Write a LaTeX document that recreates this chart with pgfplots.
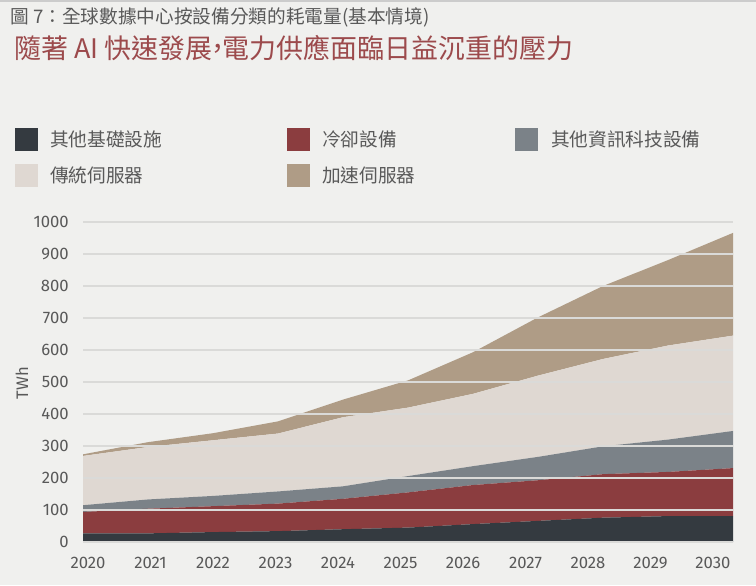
\documentclass[border=0pt]{standalone}
\usepackage{fontspec}
\setmainfont{Fira Sans}
\newfontfamily\cjk{Noto Sans CJK TC}
\usepackage{pgfplots}
\pgfplotsset{compat=1.18}

\definecolor{bgc}{HTML}{F0F0EE}
\definecolor{infra}{HTML}{343A40}
\definecolor{cool}{HTML}{8B3D3F}
\definecolor{otherit}{HTML}{7B8288}
\definecolor{conv}{HTML}{DFD8D2}
\definecolor{accel}{HTML}{AF9C86}
\definecolor{gridc}{HTML}{DADAD8}
\definecolor{txt}{HTML}{595959}
\definecolor{redtitle}{HTML}{9C4A4C}

\begin{document}
\begin{tikzpicture}
\begin{scope}[x=0.75pt, y=-0.75pt]
% background and top rule
\fill[bgc] (0,0) rectangle (756,585);
\fill[black!20] (0,0) rectangle (756,2);

% titles
\node[anchor=west, inner sep=0pt, text=txt, font=\cjk\fontsize{14}{16}\selectfont] at (10,17) {圖 7：全球數據中心按設備分類的耗電量(基本情境)};
\node[anchor=west, inner sep=0pt, text=redtitle, font=\cjk\fontsize{20.2}{24}\selectfont] at (14,48) {隨著 AI 快速發展\kern-0.3em，\kern-0.3em電力供應面臨日益沉重的壓力};

% legend
\begin{scope}[every node/.style={anchor=west, inner sep=0pt, text=txt, font=\cjk\fontsize{14}{16}\selectfont}]
\fill[infra] (15,128) rectangle (38,151); \node at (50,139) {其他基礎設施};
\fill[cool] (287,128) rectangle (310,151); \node at (322,139) {冷卻設備};
\fill[otherit] (515,128) rectangle (538,151); \node at (551,139) {其他資訊科技設備};
\fill[conv] (15,164) rectangle (38,187); \node at (50,175) {傳統伺服器};
\fill[accel] (287,164) rectangle (310,187); \node at (322,175) {加速伺服器};
\end{scope}

\node[rotate=90, inner sep=0pt, text=txt, font=\fontsize{12.5}{14}\selectfont] at (22,383) {TWh};
\end{scope}

\begin{axis}[
  at={(62.25pt,-406.5pt)}, anchor=south west, scale only axis,
  width=487.5pt, height=240pt,
  xmin=2020, xmax=2030, ymin=0, ymax=1000,
  stack plots=y, area style,
  axis lines*=left,
  y axis line style={draw=none},
  x axis line style={draw=gridc, line width=1.5pt},
  major tick length=0pt,
  ytick={0,100,...,1000},
  ymajorgrids, grid style={draw=gridc, line width=1.5pt},
  xtick={2020.077,2021.038,2022.0,2022.962,2023.923,2024.885,2025.846,2026.808,2027.769,2028.731,2029.692},
  xticklabels={2020,2021,2022,2023,2024,2025,2026,2027,2028,2029,2030},
  tick label style={font=\fontsize{12.5}{14}\selectfont, text=txt},
  yticklabel style={anchor=east, inner sep=0pt, xshift=-10.5pt},
  xticklabel style={anchor=north, inner sep=0pt, yshift=-11pt},
  /pgf/number format/1000 sep={},
  /pgf/number format/assume math mode=true,
]
\addplot[fill=infra, draw=none] coordinates {(2020,27) (2021,27) (2022,31) (2023,34) (2024,40) (2025,45) (2026,56) (2027,66) (2028,76) (2029,81) (2030,81)} \closedcycle;
\addplot[fill=cool, draw=none] coordinates {(2020,67) (2021,77) (2022,81) (2023,86) (2024,95) (2025,110) (2026,122) (2027,127) (2028,136) (2029,138) (2030,150)} \closedcycle;
\addplot[fill=otherit, draw=none] coordinates {(2020,21) (2021,29) (2022,32) (2023,38) (2024,39) (2025,51) (2026,59) (2027,73) (2028,87) (2029,101) (2030,116)} \closedcycle;
\addplot[fill=conv, draw=none] coordinates {(2020,154) (2021,164) (2022,174) (2023,181) (2024,216) (2025,214) (2026,226) (2027,254) (2028,273) (2029,294) (2030,298)} \closedcycle;
\addplot[fill=accel, draw=none] coordinates {(2020,5) (2021,15) (2022,22) (2023,38) (2024,55) (2025,85) (2026,130) (2027,182) (2028,228) (2029,267) (2030,321)} \closedcycle;
\end{axis}
\end{tikzpicture}
\end{document}
